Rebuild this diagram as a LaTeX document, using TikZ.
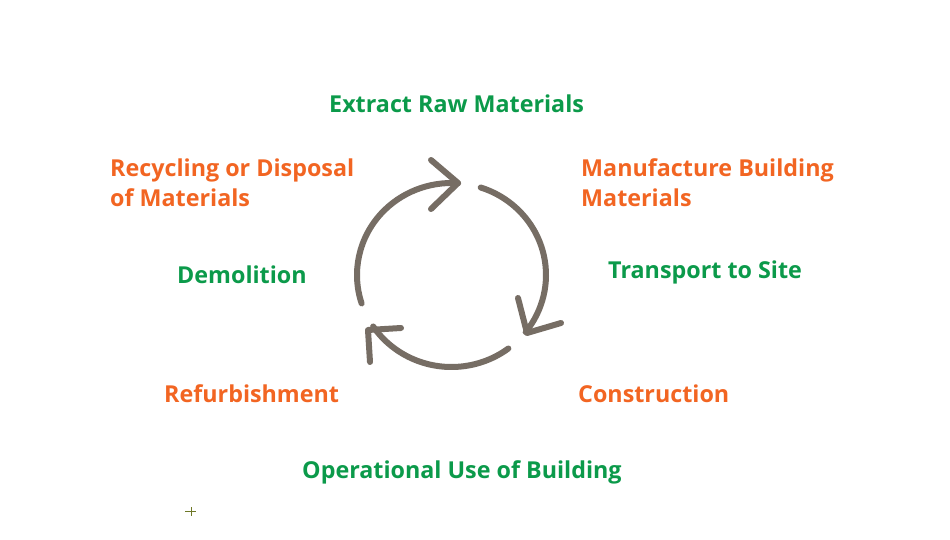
\documentclass[tikz,border=0pt]{standalone}
\usepackage{fontspec}
\setmainfont{Open Sans}
\definecolor{lcgreen}{RGB}{11,154,74}
\definecolor{lcorange}{RGB}{242,101,34}
\definecolor{lcgray}{RGB}{118,109,100}
\definecolor{lcolive}{RGB}{110,120,40}
\tikzset{
  lbl/.style={anchor=base west, inner sep=0pt, font=\bfseries\fontsize{23.3}{28}\selectfont},
  gl/.style={lbl, text=lcgreen},
  ol/.style={lbl, text=lcorange},
  cyc/.style={draw=lcgray, line width=6pt, line cap=round, line join=round},
}
\begin{document}
\begin{tikzpicture}[x=1pt,y=1pt]
\path[use as bounding box, fill=white] (0,0) rectangle (950,-540);
% labels
\node[gl] (extract) at (329,-113) {Extract Raw Materials};
\node[ol] (manuf1) at (581,-177) {Manufacture Building};
\node[ol] (manuf2) at (581,-207) {Materials};
\node[gl] (transport) at (608,-278) {Transport to Site};
\node[ol] (constr) at (578,-402) {Construction};
\node[gl] (operat) at (302,-478) {Operational Use of Building};
\node[ol] (refurb) at (164,-402) {Refurbishment};
\node[gl] (demol) at (177,-283) {Demolition};
\node[ol] (recyc1) at (110,-177) {Recycling or Disposal};
\node[ol] (recyc2) at (110,-207) {of Materials};
% cycle arrows
\coordinate (c) at (451.5,-275);
\coordinate (tipA) at (458,-183);
\coordinate (tipB) at (527,-333);
\coordinate (tipC) at (368,-330);
\draw[cyc] (c) ++(198:94.5 and 92) arc[start angle=198, end angle=86, x radius=94.5, y radius=92];
\draw[cyc] (431,-160) -- (tipA) -- (431,-209);
\draw[cyc] (c) ++(72:94.5 and 92) arc[start angle=72, end angle=-38.3, x radius=94.5, y radius=92];
\draw[cyc] (518,-298) -- (tipB) -- (561,-323);
\draw[cyc] (c) ++(-53:94.5 and 92) arc[start angle=-53, end angle=-146, x radius=94.5, y radius=92];
\draw[cyc] (370,-362) -- (tipC) -- (401,-328);
% small mark
\draw[lcolive, line width=1pt] (185,-511) -- (196,-511) (191,-507) -- (191,-516);
\end{tikzpicture}
\end{document}
